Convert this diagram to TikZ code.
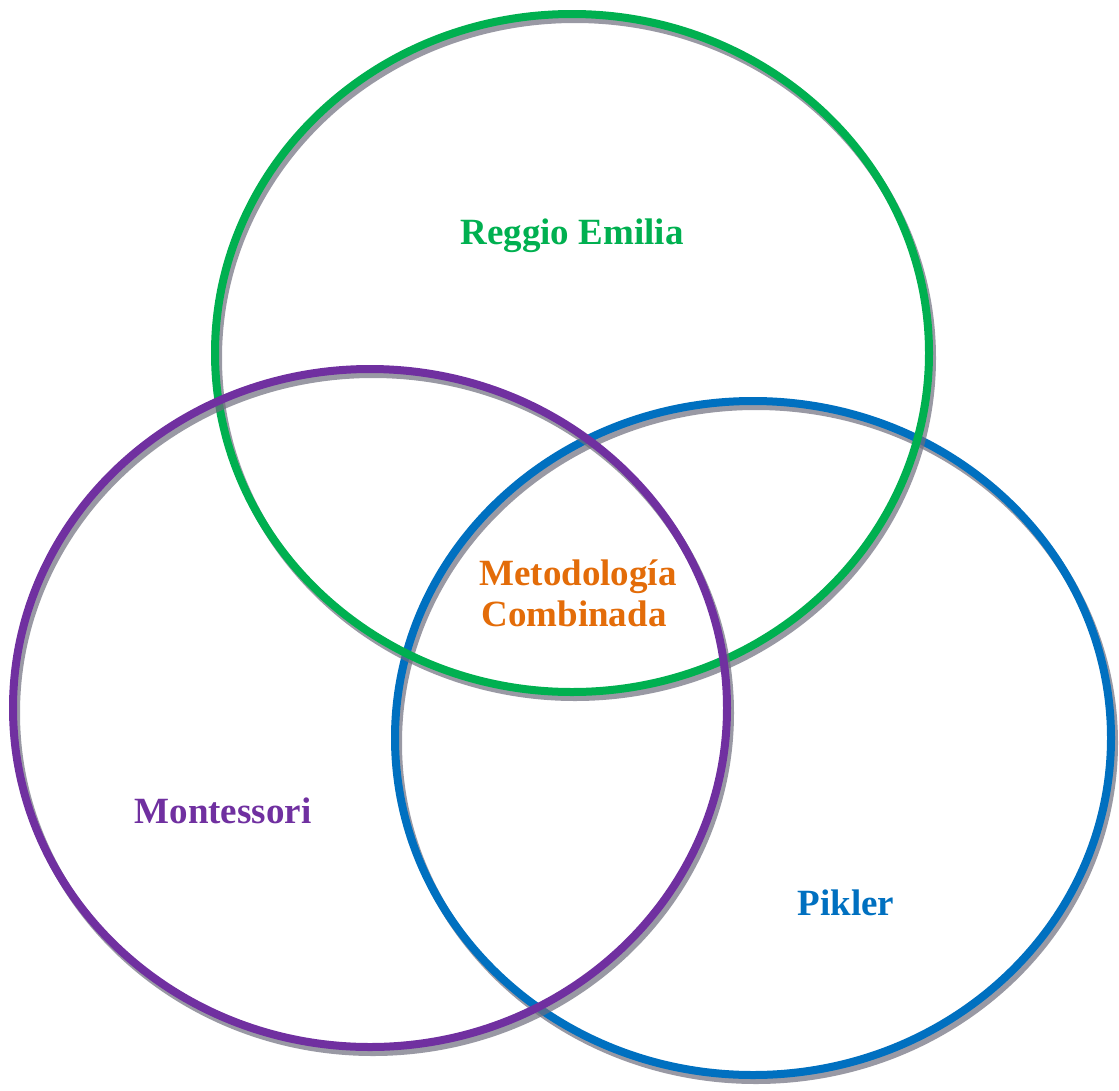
\documentclass[tikz,border=0pt]{standalone}
\usepackage{fontspec}
\setmainfont{Liberation Serif}
\definecolor{vgreen}{RGB}{0,176,80}
\definecolor{vpurple}{RGB}{112,48,160}
\definecolor{vblue}{RGB}{0,112,192}
\definecolor{vorange}{RGB}{227,108,9}
\definecolor{vshadow}{RGB}{110,110,125}
\begin{document}
\begin{tikzpicture}[x=1pt,y=-1pt,
  ring/.style={line width=8pt},
  ringshadow/.style={line width=8pt,draw=vshadow,draw opacity=0.7,shift={(3,5)}},
  lbl/.style={font=\fontsize{37}{41}\selectfont\bfseries,inner sep=0pt,anchor=base}]
\useasboundingbox (0,0) rectangle (1119,1090);
% blue (Pikler)
\draw[ringshadow] (753,738) ellipse [x radius=358, y radius=337];
\draw[ring,vblue] (753,738) ellipse [x radius=358, y radius=337];
% green (Reggio Emilia)
\draw[ringshadow] (572,353) ellipse [x radius=357, y radius=339];
\draw[ring,vgreen] (572,353) ellipse [x radius=357, y radius=339];
% purple (Montessori)
\draw[ringshadow] (370,708) ellipse [x radius=357, y radius=339];
\draw[ring,vpurple] (370,708) ellipse [x radius=357, y radius=339];
% labels
\node[lbl,text=vgreen] (reggio) at (572,244) {Reggio Emilia};
\node[lbl,text=vpurple] (monte) at (223,823) {Montessori};
\node[lbl,text=vblue] (pikler) at (846,915) {Pikler};
\node[lbl,text=vorange] (meto) at (578,585) {Metodología};
\node[lbl,text=vorange] (combi) at (574,626) {Combinada};
\end{tikzpicture}
\end{document}
